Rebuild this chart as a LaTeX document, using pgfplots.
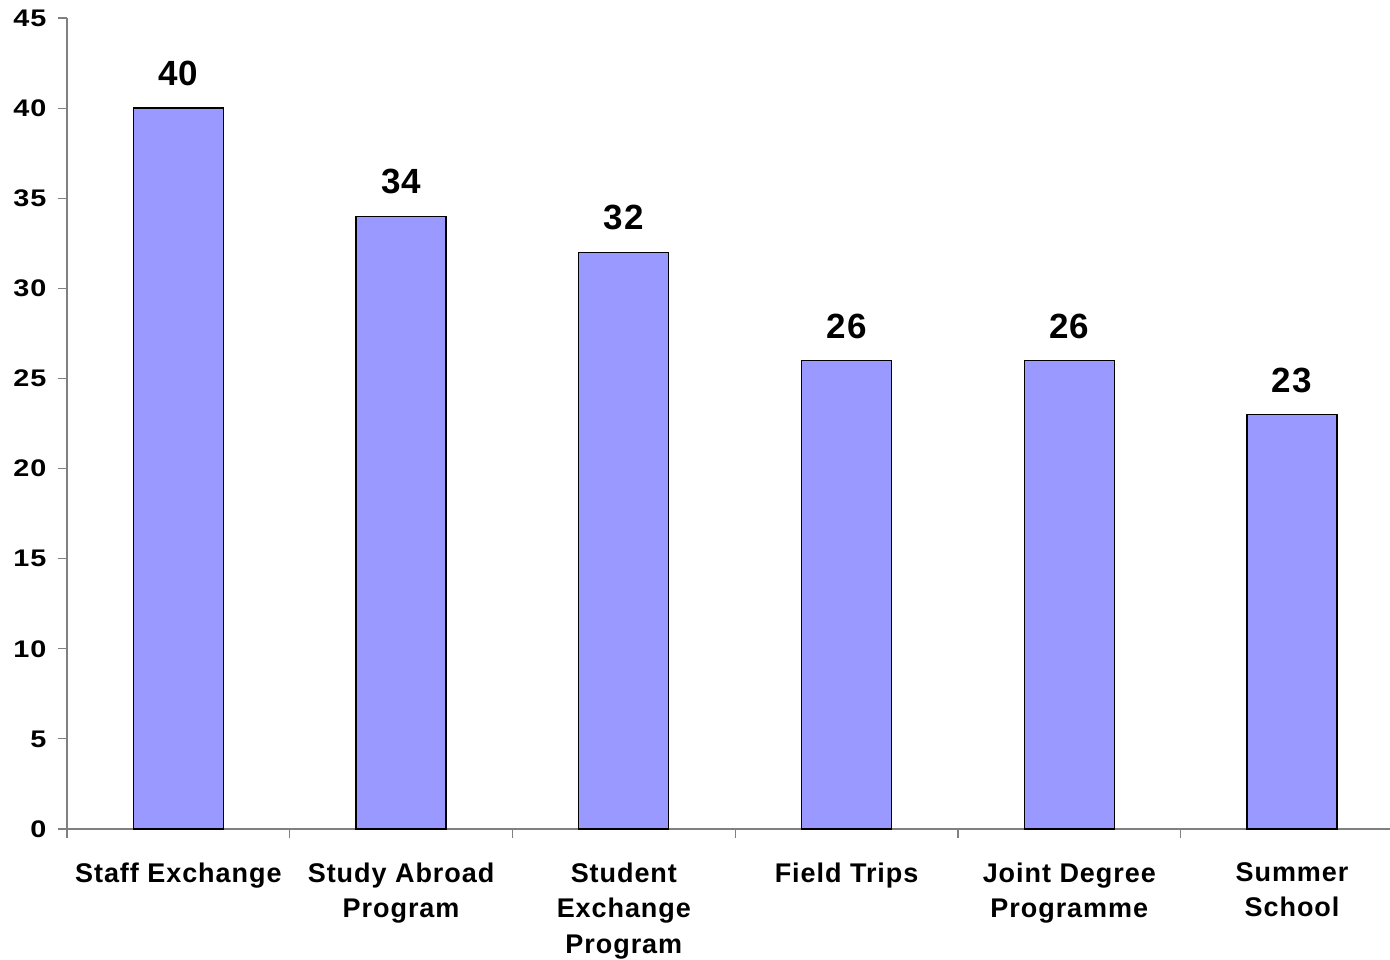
\documentclass[border=0pt]{standalone}
\usepackage{pgfplots}
\pgfplotsset{compat=1.18}
\usepackage{fontspec}
\setmainfont{Liberation Sans}[LetterSpace=3.5]
\newfontfamily\yfont{Liberation Sans}[FakeStretch=1.2, LetterSpace=4]
\definecolor{barfill}{HTML}{9999FF}
\definecolor{axgray}{HTML}{808080}
\begin{document}
\begin{tikzpicture}
\begin{axis}[
  scale only axis,
  width=1323pt, height=811pt,
  xmin=-0.5, xmax=5.44,
  ymin=0, ymax=45,
  axis lines=left,
  axis line style={axgray, line width=1.4pt, -},
  ytick={0,5,...,45},
  ytick style={axgray, line width=1.2pt},
  major tick length=9pt,
  tick align=outside,
  yticklabel style={font=\yfont\fontsize{24}{26}\selectfont\bfseries, xshift=-8pt},
  /pgf/number format/assume math mode=true,
  xtick={0,1,2,3,4,5},
  xticklabels={Staff Exchange, Study Abroad\\Program, Student\\Exchange\\Program, Field Trips, Joint Degree\\Programme, Summer\\School},
  xticklabel style={align=center, font=\fontsize{27}{35.5}\selectfont\bfseries, yshift=-21pt},
  xtick style={draw=none},
  extra x ticks={-0.5,0.5,1.5,2.5,3.5,4.5},
  extra x tick labels={},
  extra x tick style={xtick style={axgray, line width=1.2pt, draw=axgray}},
  clip=false,
]
\addplot[ybar, bar width=90pt, fill=barfill, draw=black, line width=1.3pt,
  nodes near coords, every node near coord/.append style={font=\fontsize{35}{40}\selectfont\bfseries, black, yshift=18pt}]
  coordinates {(0,40) (1,34) (2,32) (3,26) (4,26) (5,23)};
\end{axis}
\pgfresetboundingbox
\path ([shift={(-67pt,-130pt)}]current axis.south west) rectangle ++(1390pt,959pt);
\end{tikzpicture}
\end{document}
